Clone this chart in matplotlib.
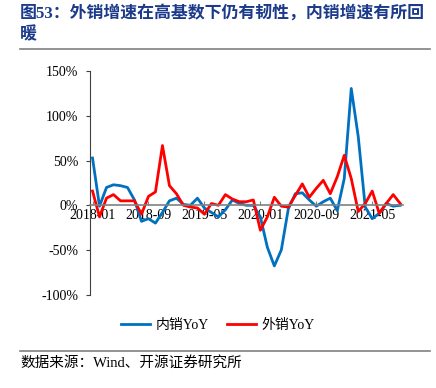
import numpy as np
import matplotlib
matplotlib.use('Agg')
import matplotlib.pyplot as plt
from matplotlib.lines import Line2D
from matplotlib.ticker import FuncFormatter

plt.rcParams['font.family'] = ['Liberation Serif', 'Noto Sans CJK SC']
plt.rcParams['axes.unicode_minus'] = False

# mesi 2018-01 .. 2021-09
months = [f'{y}-{m:02d}' for y in range(2018, 2022) for m in range(1, 13)][:45]

# 内销 YoY (%)
domestic = [53, -1, 20, 23, 22, 20, 6, -18, -15, -20, -8, 5, 8, 1, 0, 8, -3, -8, -13, -5,
            6, 2, 0, 0, -13, -47, -68, -50, -4, 13, 14, 6, -1, 4, 8, -6, 30, 131, 77, -2,
            -15, -9, 2, -1, 0]
# 外销 YoY (%)
export = [16, -13, 8, 12, 5, 5, 5, -10, 10, 15, 67, 22, 13, 0, -2, -3, -10, 2, 0, 12,
          7, 4, 4, 6, -28, -13, 9, -1, -2, 11, 24, 9, 19, 28, 13, 32, 56, 30, -7, 2,
          16, -9, 2, 12, 2]

tick_pos = list(range(0, 45, 8))
tick_lab = [months[i] for i in tick_pos]

fig = plt.figure(figsize=(4.36, 3.88), dpi=100)
ax = fig.add_axes([90/436, 1 - 294.5/388, 313/436, 223/388])

x = np.arange(len(months))
ax.plot(x, domestic, color='#0070C0', lw=2, label='内销YoY')
ax.plot(x, export, color='#FF0000', lw=2, label='外销YoY')

ax.set_xlim(-0.36, 44.4)
ax.set_ylim(-100, 150)
ax.set_yticks([-100, -50, 0, 50, 100, 150])
ax.yaxis.set_major_formatter(FuncFormatter(lambda v, p: f'{int(v)}%'))
ax.set_xticks(tick_pos)
ax.set_xticklabels(tick_lab)

ax.spines['top'].set_visible(False)
ax.spines['right'].set_visible(False)
ax.spines['bottom'].set_position(('data', 0))
ax.spines['bottom'].set_color('#808080')
ax.spines['bottom'].set_linewidth(1.2)
ax.spines['left'].set_color('#404040')
ax.tick_params(axis='y', direction='out', length=3, labelsize=10, color='#404040', pad=5.5)
ax.tick_params(axis='x', direction='in', length=3, labelsize=10, color='#808080', pad=3)

fig.legend(loc='center', bbox_to_anchor=(0.5, 1 - 325/388), ncol=2, frameon=False,
           fontsize=10, handlelength=2.1, handletextpad=0.4, columnspacing=1.3)

# titolo e fonte
title_col = '#1b3a8a'
fig.text(20/436, 1 - 13/388, '图53：外销增速在高基数下仍有韧性，内销增速有所回',
         ha='left', va='center', fontsize=12.2, fontweight='bold', color=title_col)
fig.text(20/436, 1 - 35/388, '暖', ha='left', va='center', fontsize=12.2,
         fontweight='bold', color=title_col)
fig.add_artist(Line2D([20/436, 430/436], [1 - 49/388, 1 - 49/388], color='#808080', lw=1.2))
fig.add_artist(Line2D([20/436, 430/436], [1 - 351/388, 1 - 351/388], color='#808080', lw=1.2))
fig.text(20/436, 1 - 363/388, '数据来源：Wind、开源证券研究所', ha='left', va='center', fontsize=10.5)

fig.savefig('out.png', dpi=100)
